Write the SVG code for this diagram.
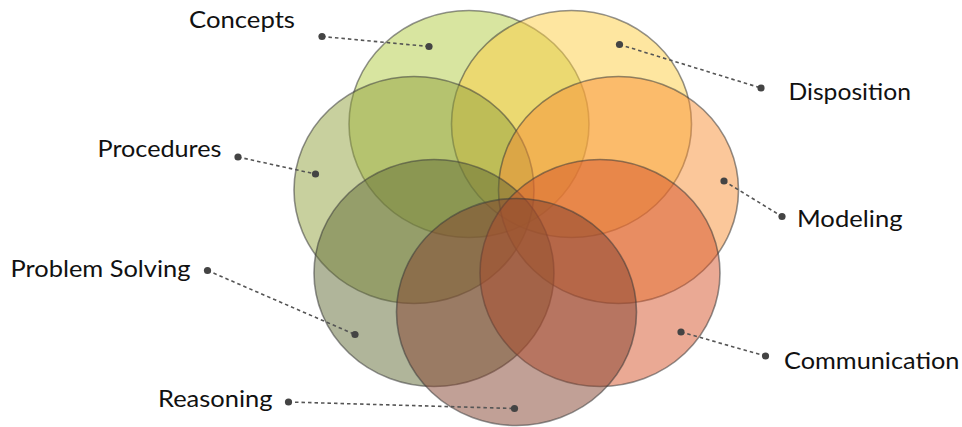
<svg xmlns="http://www.w3.org/2000/svg" width="962" height="427" viewBox="0 0 962 427">
<style>
.c{stroke:#3a3a3a;stroke-opacity:0.55;stroke-width:1.6;fill-opacity:0.5}
.lbl{font-family:Lato,"Liberation Sans",sans-serif;font-size:23px;fill:#111}
.ln{stroke:#555;stroke-width:1.6;stroke-dasharray:3.5,3;fill:none}
.dt{fill:#444}
</style>
<rect width="962" height="427" fill="#fff"/>
<g id="concepts"><ellipse class="c" cx="469" cy="124" rx="120" ry="113.5" fill="#b1cb41"/></g>
<g id="disposition"><ellipse class="c" cx="571.5" cy="124" rx="120" ry="113.5" fill="#fdcd41"/></g>
<g id="procedures"><ellipse class="c" cx="414" cy="190" rx="120" ry="113.5" fill="#91a13d"/></g>
<g id="modeling"><ellipse class="c" cx="618.5" cy="190" rx="120" ry="113.5" fill="#f78f35"/></g>
<g id="problem-solving"><ellipse class="c" cx="434" cy="273" rx="120" ry="113.5" fill="#616b35"/></g>
<g id="communication"><ellipse class="c" cx="600" cy="273" rx="120" ry="113.5" fill="#d55329"/></g>
<g id="reasoning"><ellipse class="c" cx="516.5" cy="312" rx="120" ry="113.5" fill="#83412d"/></g>
<g id="connectors">
<line class="ln" x1="322" y1="36.5" x2="429" y2="46.5"/>
<line class="ln" x1="619.5" y1="44.5" x2="761" y2="88"/>
<line class="ln" x1="238" y1="157" x2="315.5" y2="174"/>
<line class="ln" x1="724" y1="181" x2="782" y2="216.5"/>
<line class="ln" x1="207.5" y1="270.5" x2="355" y2="334.5"/>
<line class="ln" x1="681" y1="332" x2="765.5" y2="356"/>
<line class="ln" x1="288.5" y1="402" x2="514.5" y2="408.5"/>
<circle class="dt" cx="322" cy="36.5" r="3.6"/><circle class="dt" cx="429" cy="46.5" r="3.6"/>
<circle class="dt" cx="619.5" cy="44.5" r="3.6"/><circle class="dt" cx="761" cy="88" r="3.6"/>
<circle class="dt" cx="238" cy="157" r="3.6"/><circle class="dt" cx="315.5" cy="174" r="3.6"/>
<circle class="dt" cx="724" cy="181" r="3.6"/><circle class="dt" cx="782" cy="216.5" r="3.6"/>
<circle class="dt" cx="207.5" cy="270.5" r="3.6"/><circle class="dt" cx="355" cy="334.5" r="3.6"/>
<circle class="dt" cx="681" cy="332" r="3.6"/><circle class="dt" cx="765.5" cy="356" r="3.6"/>
<circle class="dt" cx="288.5" cy="402" r="3.6"/><circle class="dt" cx="514.5" cy="408.5" r="3.6"/>
</g>
<g id="labels">
<text class="lbl" x="189" y="27.5" textLength="106" lengthAdjust="spacingAndGlyphs">Concepts</text>
<text class="lbl" x="97.5" y="157" textLength="124" lengthAdjust="spacingAndGlyphs">Procedures</text>
<text class="lbl" x="10.5" y="277" textLength="180" lengthAdjust="spacingAndGlyphs">Problem Solving</text>
<text class="lbl" x="158" y="407" textLength="114.5" lengthAdjust="spacingAndGlyphs">Reasoning</text>
<text class="lbl" x="788.5" y="99.5" textLength="122.5" lengthAdjust="spacingAndGlyphs">Disposition</text>
<text class="lbl" x="797" y="227" textLength="105.5" lengthAdjust="spacingAndGlyphs">Modeling</text>
<text class="lbl" x="784" y="368.5" textLength="175.5" lengthAdjust="spacingAndGlyphs">Communication</text>
</g>
</svg>
